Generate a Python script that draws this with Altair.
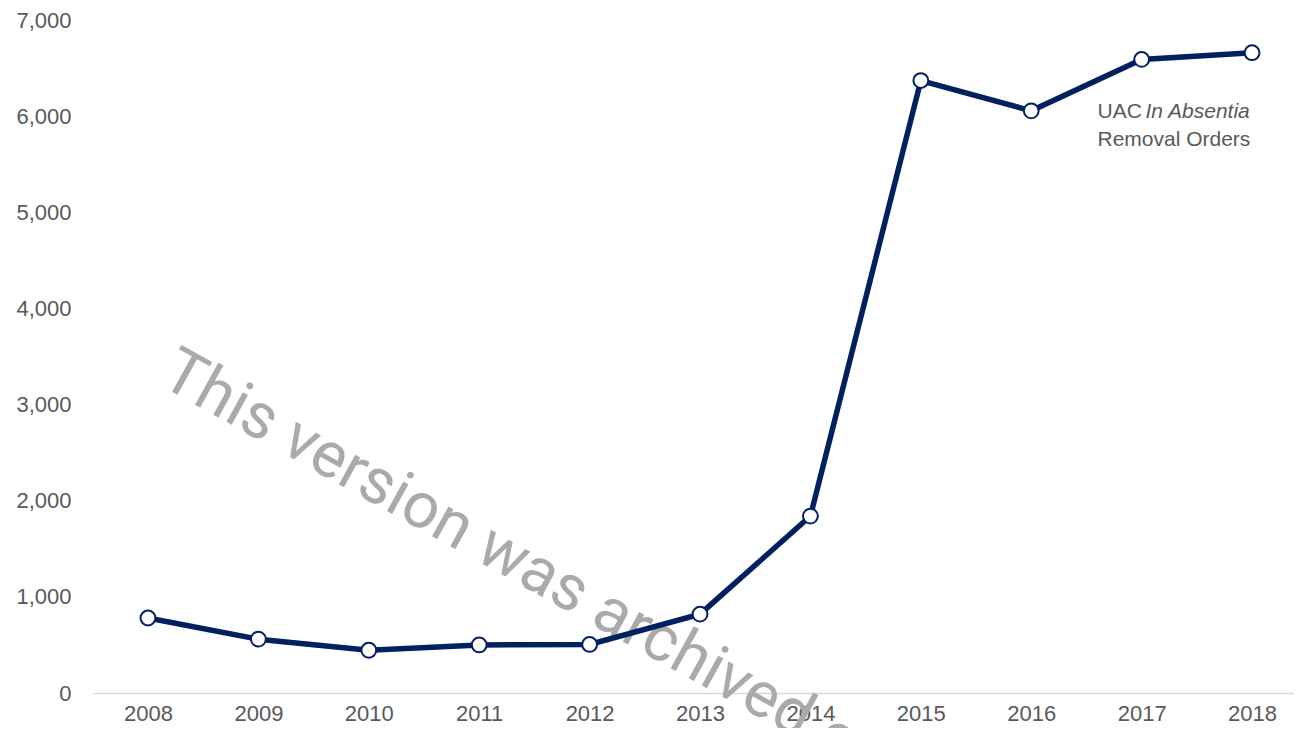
import altair as alt
import pandas as pd

years = [2008, 2009, 2010, 2011, 2012, 2013, 2014, 2015, 2016, 2017, 2018]
orders = [780, 560, 445, 500, 505, 820, 1840, 6370, 6055, 6590, 6660]

y_ticks = [0, 1000, 2000, 3000, 4000, 5000, 6000, 7000]

label_line1_regular = ["UAC"]
label_line1_italic = ["In Absentia"]
label_line2 = ["Removal Orders"]
label_x = [2016.6]
label_y1 = [5985]
label_y2 = [5685]

watermark_text = ["This version was archived on"]
watermark_x = [2008.09]
watermark_y = [3214]

NAVY = "#002060"
GREY = "#595959"

df = pd.DataFrame({"year": years, "orders": orders})

xscale = alt.Scale(domain=[2007.502, 2018.38], nice=False, zero=False)
yscale = alt.Scale(domain=[0, 7000], nice=False)

xenc = alt.X("year:Q", scale=xscale,
             axis=alt.Axis(values=years, format="d", title=None, grid=False, ticks=False,
                           domainColor="#d9d9d9", domainWidth=1.5, labelPadding=10,
                           labelFontSize=22, labelColor=GREY, labelFont="Liberation Sans"))
yenc = alt.Y("orders:Q", scale=yscale,
             axis=alt.Axis(values=y_ticks, format=",.0f", title=None, grid=False, ticks=False,
                           domain=False, labelPadding=22, labelFontSize=22, labelColor=GREY,
                           labelFont="Liberation Sans"))

wm_df = pd.DataFrame({"x": watermark_x, "y": watermark_y, "t": watermark_text})
watermark = alt.Chart(wm_df).mark_text(
    align="left", baseline="alphabetic", angle=29, font="Roboto", fontSize=64,
    color="#aaaaaa"
).encode(x=alt.X("x:Q", scale=xscale), y=alt.Y("y:Q", scale=yscale), text="t:N")

line = alt.Chart(df).mark_line(color=NAVY, strokeWidth=5.5).encode(x=xenc, y=yenc)
points = alt.Chart(df).mark_point(
    shape="circle", filled=True, fill="white", stroke=NAVY, strokeWidth=2, size=220, opacity=1
).encode(x=alt.X("year:Q", scale=xscale), y=alt.Y("orders:Q", scale=yscale))

l1 = pd.DataFrame({"x": label_x, "y": label_y1, "t": label_line1_regular})
l1i = pd.DataFrame({"x": label_x, "y": label_y1, "t": label_line1_italic})
l2 = pd.DataFrame({"x": label_x, "y": label_y2, "t": label_line2})

txt_common = dict(align="left", baseline="alphabetic", font="Liberation Sans", fontSize=21, color=GREY)
t1 = alt.Chart(l1).mark_text(**txt_common).encode(
    x=alt.X("x:Q", scale=xscale), y=alt.Y("y:Q", scale=yscale), text="t:N")
t1i = alt.Chart(l1i).mark_text(dx=48, fontStyle="italic", **txt_common).encode(
    x=alt.X("x:Q", scale=xscale), y=alt.Y("y:Q", scale=yscale), text="t:N")
t2 = alt.Chart(l2).mark_text(**txt_common).encode(
    x=alt.X("x:Q", scale=xscale), y=alt.Y("y:Q", scale=yscale), text="t:N")

chart = alt.layer(watermark, line, points, t1, t1i, t2).properties(
    width=1201, height=673,
    autosize=alt.AutoSizeParams(type="none"),
    padding={"left": 85, "top": 12, "right": 0, "bottom": 35},
    background="white",
).configure_view(stroke=None)

chart.save("out.html", embed_options={"renderer": "svg", "actions": False})
